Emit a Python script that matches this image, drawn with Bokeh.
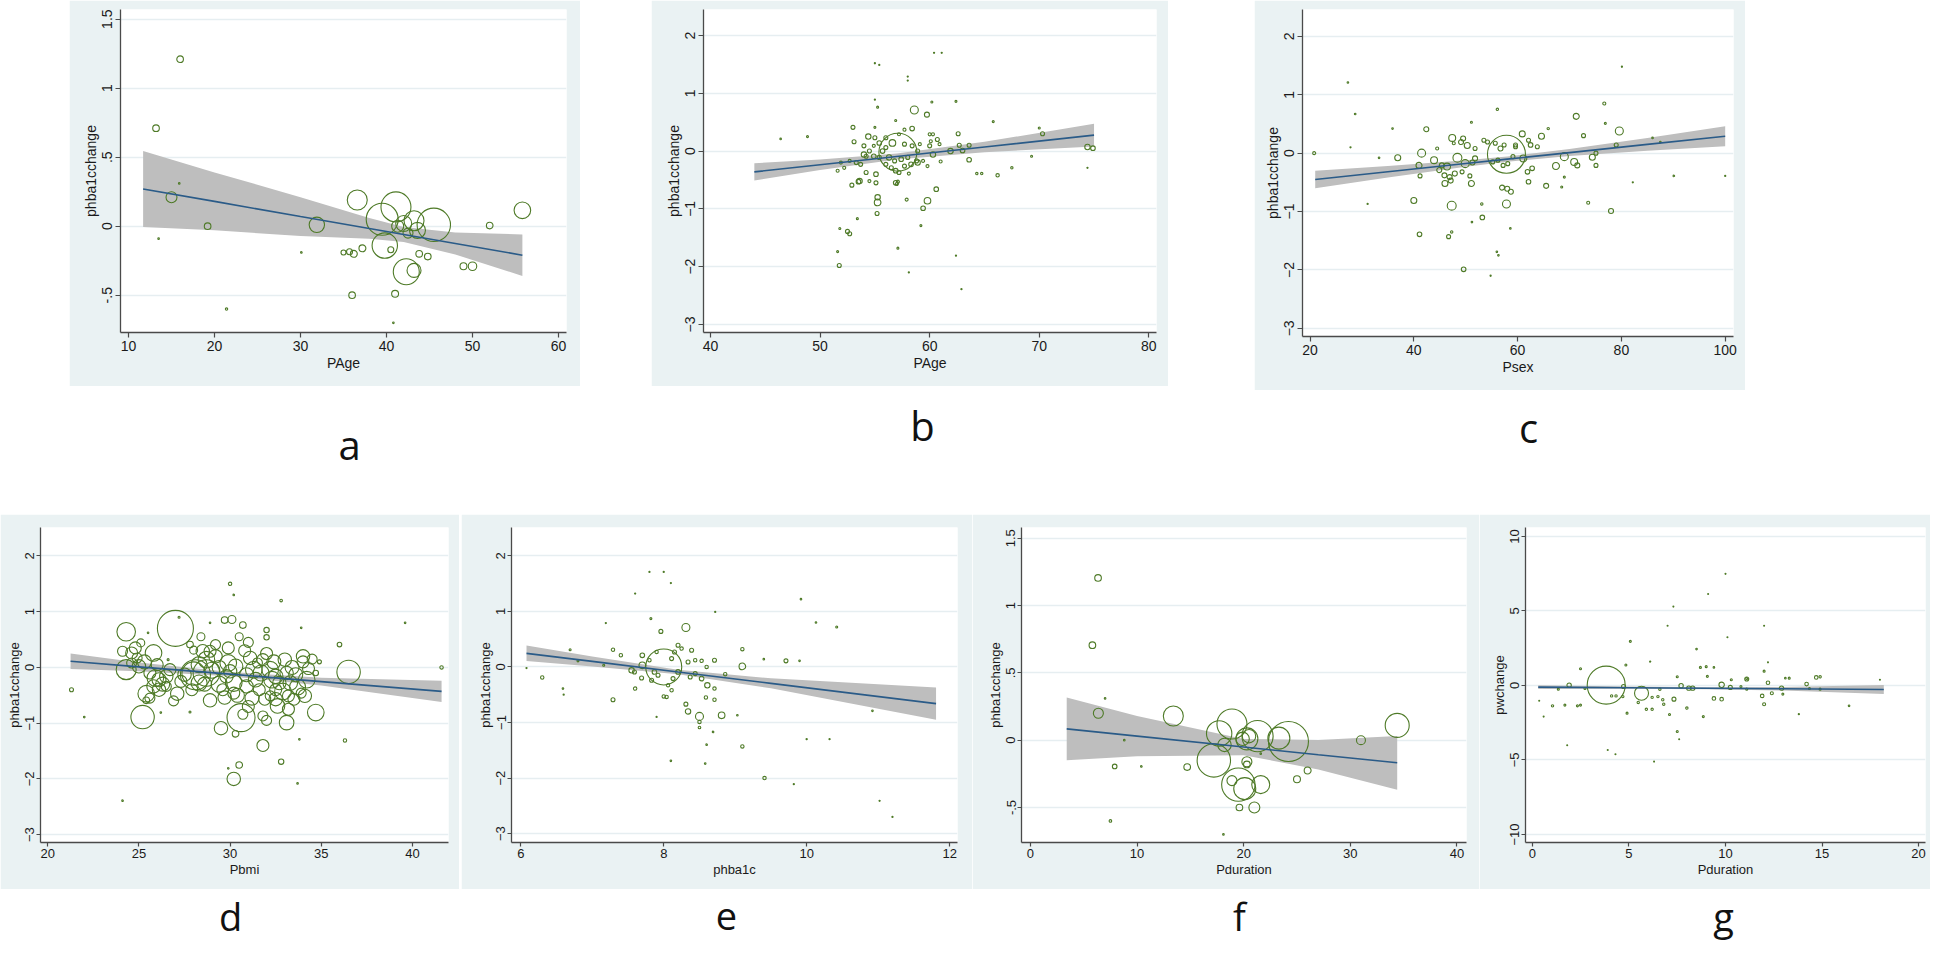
import math
from bokeh.plotting import figure
from bokeh.models import Range1d, FixedTicker, ColumnDataSource, Spacer, Label
from bokeh.layouts import row, column
from bokeh.embed import file_html
from bokeh.resources import INLINE

# ------------------------------------------------------------------ data
# panel a : phba1cchange vs PAge
a_x = [13.2, 16.0, 15.0, 15.9, 19.2, 13.5, 21.4, 31.9, 30.1, 36.6, 35.0, 35.7, 36.2, 37.2, 36.0, 39.5, 41.1, 39.8,
       40.5, 41.0, 42.3, 43.2, 41.3, 43.2, 45.5, 43.6, 43.8, 44.8, 48.95, 50.0, 52.0, 55.8, 40.8, 42.0, 42.5]
a_y = [0.71, 1.21, 0.21, 0.31, 0.00, -0.09, -0.60, 0.01, -0.19, 0.19, -0.19, -0.185, -0.20, -0.16, -0.50, 0.05,
       0.14, -0.14, -0.17, -0.49, -0.33, -0.32, 0.00, 0.04, 0.01, -0.03, -0.20, -0.22, -0.29, -0.29, 0.005, 0.115,
       -0.70, 0.02, -0.05]
a_w = [11, 11, 30, 0.64, 11, 0.64, 1.4, 59, 0.64, 100, 6.3, 9, 12, 12, 11, 256, 225, 161, 9, 12, 169, 49, 36, 100,
       279, 64, 11, 11, 12, 18, 11, 69, 0.64, 64, 25]
a_fx = [11.7, 20, 30, 38, 42, 48, 55.8]
a_fit = [0.27, 0.18, 0.07, -0.016, -0.06, -0.125, -0.21]
a_lo = [-0.005, -0.03, -0.07, -0.091, -0.115, -0.205, -0.36]
a_hi = [0.545, 0.39, 0.21, 0.059, -0.005, -0.045, -0.06]

# panel b : phba1cchange vs PAge
b_x = [57.1, 58.6, 59.75, 53.0, 54.4, 55.0, 53.1, 54.0, 54.2, 56.6, 58.4, 57.7, 60.0, 60.3, 62.6, 62.7, 63.6, 61.9,
       63.0, 60.3, 63.6, 61.0, 64.3, 64.75, 66.2, 67.5, 69.3, 70.3, 70.0, 65.8, 62.4, 60.2, 74.4, 74.9, 60.6, 59.8,
       59.4, 57.9, 55.25, 55.25, 55.2, 57.1, 57.0, 52.9, 53.5, 54.5, 53.4, 51.8, 52.5, 52.7, 51.6, 51.75, 57.1, 58.1,
       62.9, 62.4, 59.2, 55.25, 56.9, 55.0, 60.4, 61.1, 55.0, 55.4, 58.0, 58.0, 55.0, 46.4, 48.85, 74.4, 55.7, 56.0,
       56.3, 56.8, 57.4, 57.7, 58.0, 58.3, 58.8, 58.9, 56.0, 56.5, 56.9, 57.2, 57.7, 55.4, 54.9, 54.5, 54.0, 53.7,
       53.3, 52.7, 52.2, 51.6, 51.9, 56.0, 57.2, 55.4, 54.9, 58.4, 59.1, 58.9, 60.0, 60.1, 60.7, 60.9, 55.1, 55.1,
       56.9, 53.6, 54.2, 58.1, 59.4, 59.8]
b_y = [-0.02, 0.71, 0.63, 0.41, 0.25, 0.23, 0.16, 0.09, -0.09, 0.14, 0.39, 0.37, 0.29, 0.29, 0.30, 0.10, 0.10, 0.0,
       0.01, -0.06, -0.15, -0.18, -0.39, -0.39, -0.42, -0.29, -0.09, 0.30, 0.40, 0.51, 0.86, 0.85, 0.07, 0.05, -0.66,
       -0.86, -0.99, -0.84, -0.80, -0.89, -1.08, -0.53, -0.57, -0.59, -0.53, -0.52, -1.17, -1.34, -1.39, -1.43, -1.74,
       -1.98, -1.68, -2.1, -2.39, -1.81, -1.29, 0.76, 0.53, 0.41, 1.70, 1.70, 1.52, 1.49, 1.29, 1.22, 0.89, 0.21,
       0.25, -0.29, 0.0, 0.06, -0.11, -0.17, -0.14, 0.12, -0.11, -0.23, -0.17, -0.20, -0.23, -0.29, -0.34, -0.37,
       -0.26, -0.11, -0.09, 0.0, -0.06, -0.23, -0.20, -0.17, -0.29, -0.34, -0.20, 0.23, 0.29, 0.14, 0.09, 0.09, 0.12,
       0.0, 0.09, 0.17, 0.20, 0.12, -0.40, -0.55, -0.55, -0.52, -0.37, -0.39, -0.17, -0.26]
b_w = [361, 16, 6.3, 4, 7.3, 4, 4, 4, 4, 11, 5.3, 2.3, 2.3, 2.3, 4, 4, 4, 7.3, 5.3, 7.3, 5.3, 2.3, 1.4, 1.4, 2.9,
       1.4, 1, 4, 1, 1, 1, 1, 7.3, 5.3, 5.3, 11, 5.3, 2.3, 7.3, 11, 4, 2.3, 2.3, 4, 5.3, 2.3, 1, 1, 4, 4, 1, 4, 1,
       0.36, 0.36, 0.36, 1, 1, 1, 1, 0.36, 0.36, 0.36, 0.36, 0.36, 0.36, 0.36, 0.64, 1, 0.36, 5.3, 4, 7.3, 4, 5.3, 4,
       4, 5.3, 4, 7.3, 4, 4, 5.3, 4, 4, 4, 5.3, 4, 7.3, 4, 4, 2.3, 2.3, 2.3, 2.3, 4, 2.3, 5.3, 2.3, 4, 2.3, 4, 4,
       2.3, 4, 2.3, 5.3, 4, 5.3, 7.3, 4, 2.3, 2.3, 2.3]
b_fx = [44, 50, 57, 65, 75]
b_fit = [-0.36, -0.237, -0.094, 0.07, 0.276]
b_lo = [-0.51, -0.327, -0.144, -0.02, 0.081]
b_hi = [-0.21, -0.147, -0.044, 0.16, 0.471]

# panel c : phba1cchange vs Psex
c_x = [57.85, 20.8, 27.3, 28.7, 27.8, 36.9, 41.5, 42.4, 40.0, 41.1, 46.7, 47.3, 47.3, 49.6, 51.2, 53.2, 53.1, 56.1,
       51.1, 57.85, 57.0, 58.0, 58.7, 56.0, 56.3, 58.6, 54.8, 71.3, 76.7, 76.9, 79.6, 79.0, 73.6, 78.0, 90.1, 100.0,
       87.5, 86.0, 82.2, 80.1, 65.5, 68.5, 69.0, 67.4, 69.0, 70.9, 71.5, 72.7, 74.4, 75.1, 75.1, 64.6, 65.9, 63.8,
       62.1, 62.5, 60.9, 59.6, 61.1, 61.9, 62.1, 62.8, 54.2, 53.5, 51.8, 50.3, 47.4, 49.1, 49.5, 48.4, 49.9, 51.3,
       51.8, 43.9, 45.4, 46.4, 44.9, 45.9, 46.9, 46.0, 47.1, 47.9, 49.3, 50.8, 51.1, 41.0, 41.2, 44.5, 47.7, 33.3,
       35.9, 31.1, 55.2, 56.2, 57.2, 58.1, 59.1, 56.7, 55.7, 57.4, 59.6]
c_y = [-0.02, 0.0, 1.21, 0.67, 0.10, -0.08, 0.0, 0.41, -0.81, -1.39, -1.43, -1.35, -0.90, -1.99, -1.18, -1.10, -0.87,
       0.75, 0.53, -0.87, -0.59, -0.61, -0.66, -1.69, -1.75, -1.29, -2.1, 0.63, 0.85, 0.51, 0.38, 0.14, -0.85, -0.99,
       -0.39, -0.39, 0.19, 0.26, -0.50, 1.48, -0.56, -0.58, -0.41, -0.22, -0.06, -0.15, -0.21, 0.30, -0.07, 0.0,
       -0.21, 0.29, 0.42, 0.11, 0.22, 0.14, 0.33, 0.14, -0.09, -0.32, -0.49, -0.26, 0.19, 0.22, 0.08, 0.13, 0.26,
       0.19, 0.25, -0.08, -0.18, -0.16, -0.09, -0.12, -0.21, -0.23, -0.29, -0.38, -0.41, -0.52, -0.47, -0.35, -0.32,
       -0.39, -0.52, -0.21, -0.39, 0.08, 0.17, -0.08, 0.42, -0.87, -0.15, -0.12, -0.21, -0.18, -0.06, 0.08, 0.17,
       0.14, 0.11]
c_w = [361, 2.3, 0.64, 0.64, 0.36, 9, 16, 6.3, 9, 5.3, 4, 1.4, 20, 5.3, 0.64, 5.3, 1.4, 1.4, 1, 16, 6.3, 6.3, 6.3,
       0.64, 0.64, 0.64, 0.36, 9, 2.3, 1, 16, 4, 2.3, 6.3, 0.64, 0.36, 0.64, 0.64, 0.36, 0.36, 6.3, 1, 1, 12, 16, 12,
       6.3, 4, 9, 4, 4, 9, 1.4, 4, 4, 5.3, 9, 4, 12, 5.3, 5.3, 5.3, 4, 4, 4, 9, 12, 6.3, 6.3, 20, 16, 6.3, 6.3, 12,
       6.3, 12, 6.3, 6.3, 6.3, 9, 6.3, 6.3, 4, 4, 9, 9, 4, 2.3, 2.3, 0.64, 0.64, 0.36, 4, 4, 4, 4, 4, 6.3, 4, 4, 4]
c_fx = [21, 35, 50, 58, 70, 85, 100]
c_fit = [-0.45, -0.319, -0.178, -0.103, 0.009, 0.15, 0.29]
c_lo = [-0.60, -0.419, -0.233, -0.148, -0.051, 0.04, 0.12]
c_hi = [-0.30, -0.219, -0.123, -0.058, 0.069, 0.26, 0.46]

# panel d : phba1cchange vs Pbmi
d_x = [21.3, 22.0, 24.1, 24.3, 24.1, 24.3, 25.2, 25.4, 25.4, 25.1, 24.6, 24.9, 24.6, 25.0, 25.8, 25.9, 25.8, 26.1,
       25.6, 26.5, 26.7, 27.0, 27.2, 27.1, 27.8, 28.0, 28.1, 28.7, 27.5, 28.0, 27.8, 28.5, 28.9, 28.7, 28.9, 28.9,
       29.2, 29.2, 29.5, 29.7, 29.7, 30.1, 30.0, 30.2, 30.7, 29.9, 30.0, 30.3, 30.2, 29.8, 30.6, 30.7, 30.3, 30.5,
       30.2, 29.9, 31.1, 31.3, 31.4, 31.5, 30.9, 31.6, 31.8, 31.8, 32.0, 32.0, 32.2, 32.3, 32.5, 32.7, 32.5, 32.2,
       32.5, 32.6, 32.8, 32.8, 33.1, 33.0, 33.1, 33.3, 32.9, 33.2, 33.5, 34.0, 34.0, 34.1, 33.9, 33.9, 34.2, 34.7,
       34.9, 34.7, 33.8, 33.7, 36.0, 36.5, 36.3, 39.6, 41.6, 26.2, 25.5, 26.6, 28.3, 29.6, 30.9, 31.8, 33.6, 31.9,
       30.2, 26.5, 26.1, 24.8, 25.3, 26.0, 26.3, 27.3, 28.3, 28.6, 29.0, 29.4, 29.4, 30.4, 30.8, 31.2, 31.0, 31.7,
       32.0, 32.4, 33.4, 33.7, 34.3, 34.5, 31.0, 29.9, 27.9, 26.9, 33.2, 32.0, 28.4, 30.5, 25.6]
d_y = [-0.40, -0.89, -2.39, 0.64, 0.29, -0.04, -0.89, -0.59, -0.47, 0.44, 0.26, 0.17, 0.08, 0.02, 0.26, -0.19, -0.34,
       -0.40, -0.10, -0.16, -0.04, 0.70, 0.90, -0.47, -0.80, -0.11, -0.13, -0.10, -0.13, 0.31, 0.41, 0.29, 0.29, 0.14,
       -0.59, 0.80, 0.41, 0.20, -1.09, -0.54, 0.85, 0.86, 1.50, 1.30, 0.76, 0.08, -0.07, 0.02, -0.28, -0.16, -0.90,
       -0.84, -1.19, -1.75, -2.0, -1.81, 0.17, -0.04, -0.22, 0.08, -0.34, -0.40, -0.87, -1.40, 0.67, 0.54, -0.04,
       -0.22, -0.16, -0.28, -0.40, -0.51, -0.57, -0.69, 1.20, -1.69, -0.99, 0.14, -0.10, -0.28, -0.43, -0.51, -0.57,
       0.20, 0.10, -0.51, -0.46, 0.71, -0.22, -0.81, 0.10, -0.10, -1.29, -2.08, 0.41, -0.08, -1.31, 0.80, 0.0, -0.81,
       0.62, 0.14, -0.28, -0.40, -0.13, 0.14, -0.13, -0.57, -0.46, -0.34, -0.22, 0.35, 0.10, 0.05, -0.30, -0.25,
       0.05, -0.30, -0.05, 0.00, -0.30, -0.50, 0.30, -0.55, -0.70, -0.10, 0.25, 0.10, 0.00, -0.35, -0.02, 0.15,
       0.45, 0.35, -0.40, -0.60, -0.75, -0.95, 0.55, 0.55, -0.55]
d_w = [4, 0.64, 0.64, 86, 25, 100, 137, 11, 69, 16, 36, 25, 25, 45, 69, 69, 45, 45, 36, 45, 36, 324, 1, 45, 1, 137,
       225, 177, 45, 16, 11, 45, 36, 69, 45, 0.64, 25, 45, 45, 45, 11, 16, 2.9, 0.64, 11, 69, 45, 53, 69, 45, 196, 25,
       11, 11, 45, 0.64, 45, 69, 53, 25, 45, 36, 25, 36, 7.3, 7.3, 69, 69, 53, 45, 36, 25, 45, 53, 1.7, 7.3, 53, 45,
       45, 53, 69, 36, 36, 45, 36, 45, 25, 0.64, 69, 69, 4, 7.3, 0.64, 0.64, 5.3, 137, 2.9, 0.64, 2.9, 0.64, 0.64, 1,
       64, 36, 49, 36, 49, 36, 36, 25, 49, 36, 49, 36, 49, 36, 64, 49, 64, 49, 64, 49, 36, 49, 36, 64, 36, 49, 49, 64,
       36, 25, 25, 36, 36, 25, 36, 25, 16, 16, 25]
d_fx = [21.25, 25, 30, 35, 41.6]
d_fit = [0.11, 0.01, -0.12, -0.254, -0.43]
d_lo = [-0.03, -0.07, -0.16, -0.324, -0.62]
d_hi = [0.25, 0.09, -0.08, -0.184, -0.24]

# panel e : phba1cchange vs phba1c
e_x = [8.0, 8.31, 7.96, 7.82, 7.29, 7.4, 7.29, 6.3, 6.69, 6.8, 7.16, 7.55, 7.59, 7.7, 7.7, 7.69, 7.6, 7.80, 7.90,
       7.83, 7.92, 7.87, 8.11, 8.15, 8.2, 8.25, 8.2, 8.13, 8.06, 8.11, 8.0, 8.04, 8.31, 8.34, 8.5, 8.5, 8.5, 8.81,
       8.61, 8.53, 8.71, 8.59, 8.71, 8.71, 8.6, 8.53, 8.39, 8.34, 8.44, 8.37, 8.44, 8.86, 9.1, 9.1, 9.1, 8.6, 8.58,
       8.1, 8.69, 9.41, 9.71, 10.42, 9.92, 9.82, 11.02, 10.92, 11.2, 10.13, 10.0, 10.32, 7.8, 8.0, 8.1, 7.6, 9.03,
       9.4, 9.9, 8.72, 7.9, 7.19, 6.59, 6.6, 6.08]
e_y = [0.0, 0.71, 0.64, 0.87, 0.31, 0.21, -0.59, -0.19, 0.31, 0.11, 0.03, -0.06, -0.09, 0.03, 0.21, -0.20, -0.39, 0.12,
       0.27, -0.24, -0.15, -0.09, 0.15, 0.27, 0.39, 0.33, -0.09, -0.21, -0.33, -0.42, -0.53, -0.54, -0.67, -0.80,
       -0.89, -0.99, -1.09, -0.87, -0.33, -0.21, -0.59, -0.55, -0.39, 0.12, 0.0, 0.11, 0.30, 0.09, 0.12, -0.18, -0.12,
       -0.13, 0.01, 0.32, -1.43, -1.40, -1.74, -1.69, -1.17, -2.0, 0.11, 0.72, 1.22, -2.11, -2.41, -0.79, -2.7, 0.80,
       -1.30, -1.30, 1.71, 1.71, 1.51, 1.32, -0.87, 0.14, 0.11, 0.99, -0.9, 0.79, -0.39, -0.5, -0.02]
e_w = [324, 16, 4, 1, 2.9, 2.9, 4, 2.9, 1, 1, 1, 7.3, 4, 11, 5.3, 4, 2.9, 2.9, 2.9, 4, 4, 5.3, 4, 4, 4, 2.9, 5.3, 4,
       2.9, 2.9, 2.9, 2.9, 4, 7.3, 16, 2.9, 1.7, 11, 7.3, 5.3, 2.9, 2.9, 2.9, 4, 2.9, 2.9, 4, 4, 2.9, 4, 4, 2.9, 11,
       2.9, 2.9, 0.64, 0.64, 0.64, 0.64, 2.9, 4, 1, 0.64, 0.36, 0.36, 0.64, 0.36, 0.64, 0.36, 0.36, 0.36, 0.36, 0.36,
       0.36, 0.64, 0.64, 0.64, 0.36, 0.36, 0.36, 0.64, 0.36, 0.36]
e_fx = [6.08, 7, 8.2, 9.5, 11.81]
e_fit = [0.245, 0.10, -0.09, -0.295, -0.66]
e_lo = [0.105, 0.01, -0.13, -0.385, -0.95]
e_hi = [0.385, 0.19, -0.05, -0.205, -0.37]

# panel f : phba1cchange vs Pduration
f_x = [6.34, 5.81, 6.37, 7.0, 8.8, 7.9, 10.4, 7.5, 13.4, 14.7, 17.2, 17.7, 18.9, 18.2, 18.9, 19.5, 19.6, 20.3, 18.1,
       20.3, 21.3, 23.3, 24.2, 20.3, 21.6, 20.1, 21.0, 25.0, 26.0, 31.0, 34.4, 21.6, 19.9, 20.5]
f_y = [1.205, 0.706, 0.20, 0.31, 0.0, -0.195, -0.195, -0.60, 0.18, -0.20, -0.15, 0.05, 0.12, -0.035, -0.30, -0.33,
       -0.50, -0.18, -0.70, 0.01, 0.03, 0.015, -0.01, -0.16, -0.33, -0.36, -0.50, -0.29, -0.225, 0.0, 0.11, -0.10,
       0.01, 0.03]
f_w = [11, 11, 25, 0.64, 0.64, 5.3, 0.64, 1.7, 100, 11, 279, 161, 225, 45, 25, 279, 11, 11, 0.64, 121, 243, 121,
       400, 25, 81, 121, 30, 12, 12, 20, 144, 0.64, 45, 45]
f_fx = [3.4, 10, 20, 27, 34.4]
f_fit = [0.084, 0.03, -0.051, -0.108, -0.168]
f_lo = [-0.149, -0.12, -0.111, -0.218, -0.368]
f_hi = [0.317, 0.18, 0.009, 0.002, 0.032]

# panel g : pwchange vs Pduration
g_x = [3.82, 5.65, 1.9, 4.72, 9.8, 10.25, 7.7, 8.1, 8.3, 12.9, 14.2, 14.7, 14.9, 12.2, 5.07, 4.84, 2.49, 8.7, 9.0,
       9.4, 9.06, 7.5, 8.5, 11.1, 12.0, 13.3, 13.1, 9.4, 9.8, 11.9, 12.0, 12.4, 8.0, 8.85, 7.5, 7.1, 4.9, 1.04, 1.68,
       2.33, 2.49, 1.34, 2.72, 4.1, 4.33, 4.68, 5.48, 5.9, 6.2, 6.2, 6.5, 6.75, 6.8, 7.33, 6.6, 10.3, 10.8, 11.1,
       12.97, 16.4, 13.8, 10.0, 9.1, 7.3, 7.0, 12.0, 10.1, 6.1, 12.2, 1.8, 3.9, 4.3, 6.3, 7.6, 0.58, 0.35, 18.0,
       14.35, 14.9, 11.1]
g_y = [0.02, -0.52, 0.02, -0.07, 0.04, -0.13, -0.02, -0.18, -0.18, -0.18, 0.09, 0.54, 0.58, 0.18, 2.96, 1.37, 1.12,
       1.21, 1.26, 1.21, 0.61, 0.58, 2.44, 0.47, 0.96, 0.49, 0.49, -0.87, -0.92, -0.70, -1.26, -0.52, -1.52, -2.09,
       -3.09, -1.95, -1.86, -1.37, -1.32, -1.37, -1.32, -0.25, -0.20, -0.7, -0.7, -0.75, -1.14, -1.6, -1.6, -0.8,
       -0.75, -0.96, -1.26, -0.92, -0.25, 0.38, -0.07, 0.43, -0.58, -1.37, -1.93, 7.49, 6.14, 5.29, 4.01, 4.01, 3.23,
       1.6, 1.55, -4.01, -4.33, -4.62, -5.11, -3.61, -2.09, -1.03, 0.38, -0.2, -0.25, -0.25]
g_w = [361, 49, 4.8, 4, 7.3, 4, 4.8, 4.8, 4.8, 4.8, 3.2, 3.2, 1.4, 3.2, 1, 1, 1, 1, 1, 0.64, 1, 1, 0.64, 1, 1, 1,
       0.64, 3.2, 3.2, 3.2, 2.3, 2.3, 1.4, 1, 1, 1, 1, 1.4, 1, 1, 1, 1, 1, 1.4, 1.4, 1.4, 1.4, 1.4, 1.4, 1.4, 1.4,
       1.4, 1.4, 4, 1.4, 1, 1, 4, 1, 0.64, 0.36, 0.25, 0.25, 0.25, 0.25, 0.25, 0.25, 0.36, 0.25, 0.25, 0.25, 0.25,
       0.25, 0.25, 0.25, 0.25, 0.25, 1, 1, 1]
g_fx = [0.3, 5, 9, 13, 18.2]
g_fit = [-0.11, -0.15, -0.19, -0.22, -0.27]
g_lo = [-0.24, -0.23, -0.26, -0.34, -0.57]
g_hi = [0.02, -0.07, -0.12, -0.10, 0.03]

# ticks and labels
half_ticks = [-0.5, 0, 0.5, 1, 1.5]
half_tick_labels = ["-.5", "0", ".5", "1", "1.5"]
unit_ticks = [-3, -2, -1, 0, 1, 2]
g_yticks = [-10, -5, 0, 5, 10]
a_xticks = [10, 20, 30, 40, 50, 60]
b_xticks = [40, 50, 60, 70, 80]
c_xticks = [20, 40, 60, 80, 100]
d_xticks = [20, 25, 30, 35, 40]
e_xticks = [6, 8, 10, 12]
f_xticks = [0, 10, 20, 30, 40]
g_xticks = [0, 5, 10, 15, 20]
panel_letters = ["a", "b", "c", "d", "e", "f", "g"]

# ------------------------------------------------------------------ style
BG = "#EAF2F3"
GRID = "#E6EEF1"
GREEN = "#4E7A27"
NAVY = "#2A5B88"
BAND = "#BEBEBE"
AXIS = "#4A4A4A"
TXT = "#1A1A1A"
FONT = "Liberation Sans"


def panel(W, H, mb_l, mb_r, mb_t, mb_b, xr, yr, xt, yt, xlabel, ylabel, xs, ys, ws, fx, fit, lo, hi,
          fs, ylabels=None, tick_out=5, standoff=3):
    p = figure(width=W, height=H, x_range=Range1d(*xr), y_range=Range1d(*yr),
               output_backend="svg", toolbar_location=None,
               min_border_left=mb_l, min_border_right=mb_r, min_border_top=mb_t, min_border_bottom=mb_b)
    p.border_fill_color = BG
    p.background_fill_color = "white"
    p.outline_line_color = None
    p.xgrid.visible = False
    p.ygrid.ticker = FixedTicker(ticks=yt)
    p.ygrid.grid_line_color = GRID
    p.ygrid.grid_line_width = 1.5
    p.xaxis.ticker = FixedTicker(ticks=xt)
    p.yaxis.ticker = FixedTicker(ticks=yt)
    if ylabels is not None:
        p.yaxis.major_label_overrides = {float(t): l for t, l in zip(yt, ylabels)}
    p.yaxis.major_label_orientation = "vertical"
    for ax in (p.xaxis[0], p.yaxis[0]):
        ax.axis_line_color = AXIS
        ax.axis_line_width = 1.3
        ax.major_tick_line_color = AXIS
        ax.major_tick_line_width = 1.2
        ax.major_tick_out = tick_out
        ax.major_tick_in = 0
        ax.minor_tick_line_color = None
        ax.major_label_text_font = FONT
        ax.major_label_text_font_size = f"{fs}px"
        ax.major_label_text_color = TXT
        ax.major_label_standoff = standoff
        ax.axis_label_text_font = FONT
        ax.axis_label_text_font_size = f"{fs}px"
        ax.axis_label_text_font_style = "normal"
        ax.axis_label_text_color = TXT
        ax.axis_label_standoff = 1
    p.xaxis.axis_label = xlabel
    p.yaxis.axis_label = ylabel
    p.varea(x=fx, y1=lo, y2=hi, fill_color=BAND, fill_alpha=1.0)
    src = ColumnDataSource(dict(x=xs, y=ys, s=[max(1.0, 2.0 * math.sqrt(w)) for w in ws]))
    p.scatter("x", "y", size="s", source=src, marker="circle", fill_color=None,
              line_color=GREEN, line_width=1.1)
    p.line(fx, fit, line_color=NAVY, line_width=1.6)
    return p


pa = panel(511, 386, 51, 14, 9, 52, (9.07, 60.93), (-0.77, 1.57), a_xticks, half_ticks, "PAge", "phba1cchange",
           a_x, a_y, a_w, a_fx, a_fit, a_lo, a_hi, 14, half_tick_labels)
pb = panel(517, 386, 52, 12, 9, 53, (39.36, 80.7), (-3.14, 2.45), b_xticks, unit_ticks, "PAge", "phba1cchange",
           b_x, b_y, b_w, b_fx, b_fit, b_lo, b_hi, 14)
pc = panel(491, 390, 48, 12, 9, 54, (18.55, 101.6), (-3.14, 2.46), c_xticks, unit_ticks, "Psex", "phba1cchange",
           c_x, c_y, c_w, c_fx, c_fit, c_lo, c_hi, 14)
pd = panel(459, 375, 40, 11, 13, 47, (19.6, 41.98), (-3.14, 2.51), d_xticks, unit_ticks, "Pbmi", "phba1cchange",
           d_x, d_y, d_w, d_fx, d_fit, d_lo, d_hi, 13, None, 4, 2)
pe = panel(511, 375, 50, 15, 13, 46, (5.87, 12.11), (-3.16, 2.51), e_xticks, unit_ticks, "phba1c", "phba1cchange",
           e_x, e_y, e_w, e_fx, e_fit, e_lo, e_hi, 13, None, 4, 2)
pf = panel(507, 375, 49, 13, 13, 46, (-0.84, 40.9), (-0.76, 1.58), f_xticks, half_ticks, "Pduration",
           "phba1cchange", f_x, f_y, f_w, f_fx, f_fit, f_lo, f_hi, 13, half_tick_labels, 4, 2)
pg = panel(451, 375, 46, 5, 13, 47, (-0.36, 20.36), (-10.54, 10.6), g_xticks, g_yticks, "Pduration", "pwchange",
           g_x, g_y, g_w, g_fx, g_fit, g_lo, g_hi, 13, None, 4, 2)


def letters_fig(H, xs, ys, texts, fsize):
    f = figure(width=1930, height=H, x_range=Range1d(0, 1930), y_range=Range1d(0, H),
               output_backend="svg", toolbar_location=None, x_axis_type=None, y_axis_type=None,
               min_border=0)
    f.outline_line_color = None
    f.grid.visible = False
    f.background_fill_color = "white"
    f.border_fill_color = "white"
    for x, y, t in zip(xs, ys, texts):
        f.add_layout(Label(x=x, y=y, x_units="screen", y_units="screen", text=t, text_align="center",
                           text_baseline="middle", text_font="Open Sans", text_font_size=fsize,
                           text_color="#111111"))
    return f


top_letters = letters_fig(124, [349, 922, 1528], [70, 89, 87], panel_letters[:3], "40px")
bottom_letters = letters_fig(53, [230, 726, 1239, 1723], [26.6, 26.6, 26.6, 26.6], panel_letters[3:], "38px")

top_row = row(Spacer(width=69, height=390), pa, Spacer(width=71, height=390), pb,
              Spacer(width=86, height=390), pc)
bottom_row = row(pd, Spacer(width=2, height=375), pe, pf, pg)
layout = column(top_row, top_letters, bottom_row, bottom_letters)

open("out.html", "w").write(file_html(layout, INLINE))
